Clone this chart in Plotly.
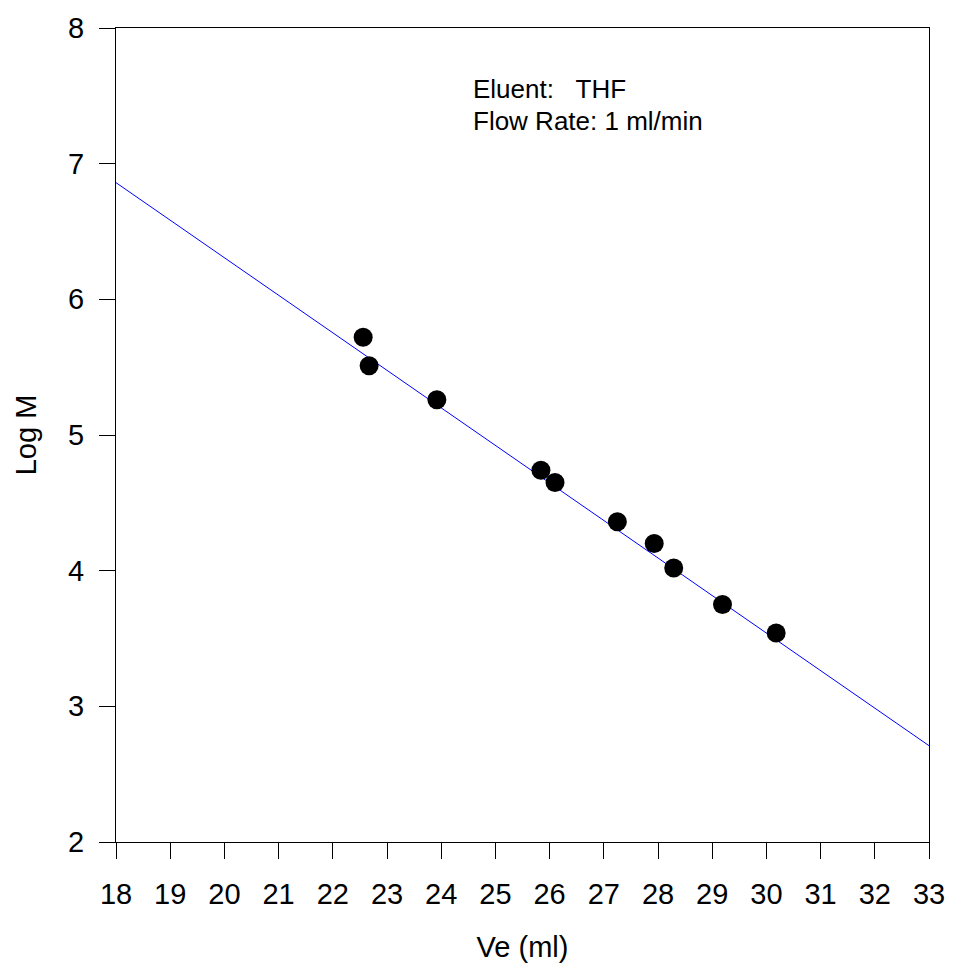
import plotly.graph_objects as go

ve = [22.56, 22.67, 23.92, 25.84, 26.10, 27.25, 27.93, 28.29, 29.19, 30.18]
logm = [5.72, 5.51, 5.26, 4.74, 4.65, 4.36, 4.20, 4.02, 3.75, 3.54]
fit_x = [18, 33]
fit_y = [6.86, 2.71]
x_ticks = list(range(18, 34))
y_ticks = list(range(2, 9))

FONT = "Liberation Sans, Arial, sans-serif"

fig = go.Figure()
fig.add_trace(go.Scatter(x=fit_x, y=fit_y, mode="lines",
                         line=dict(color="#0000ff", width=1), showlegend=False))
fig.add_trace(go.Scatter(x=ve, y=logm, mode="markers",
                         marker=dict(color="black", size=19, line=dict(width=0)),
                         showlegend=False))

fig.add_annotation(x=24.557, y=7.55, text="Eluent:\u00a0\u00a0\u00a0THF", showarrow=False,
                   xanchor="left", yanchor="middle", font=dict(family=FONT, size=26, color="black"))
fig.add_annotation(x=24.557, y=7.315, text="Flow Rate: 1 ml/min", showarrow=False,
                   xanchor="left", yanchor="middle", font=dict(family=FONT, size=26, color="black"))

axis_common = dict(showline=True, linecolor="black", linewidth=1, mirror=True,
                   ticks="outside", ticklen=16, tickcolor="black", tickwidth=1,
                   showgrid=False, zeroline=False,
                   tickfont=dict(family=FONT, size=29, color="black"))

fig.update_xaxes(range=[18, 33], tickvals=x_ticks, ticktext=[str(v) for v in x_ticks],
                 ticklabelstandoff=10,
                 title=dict(text="Ve (ml)", font=dict(family=FONT, size=29, color="black"), standoff=27),
                 **axis_common)
fig.update_yaxes(range=[2, 8], tickvals=y_ticks, ticktext=[str(v) for v in y_ticks],
                 ticklabelstandoff=9,
                 title=dict(text="Log M", font=dict(family=FONT, size=29, color="black"), standoff=22),
                 **axis_common)

fig.update_layout(width=957, height=969, margin=dict(l=116, r=22, t=25, b=126),
                  plot_bgcolor="white", paper_bgcolor="white")

fig.write_html("out.html")
